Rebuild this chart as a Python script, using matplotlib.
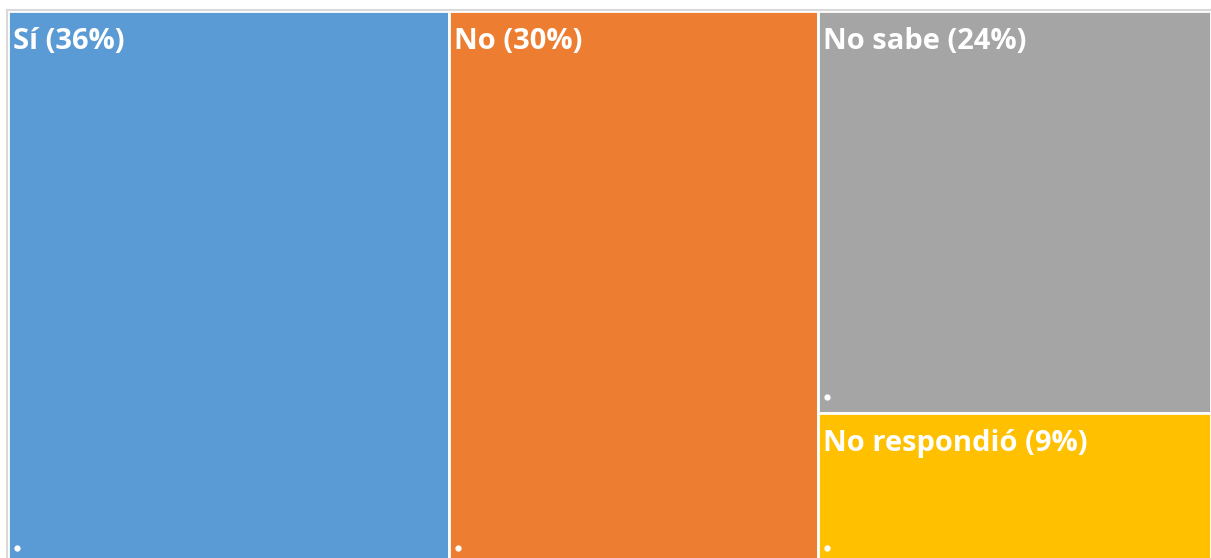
import matplotlib.pyplot as plt
from matplotlib.patches import Rectangle

# treemap data
labels = ["Sí", "No", "No sabe", "No respondió"]
pct_labels = [36, 30, 24, 9]
shares = [36.6, 30.6, 23.7, 8.9]
colors = ["#5B9BD5", "#ED7D31", "#A5A5A5", "#FFC000"]

W, H = 1211, 558
fig = plt.figure(figsize=(W / 100, H / 100), dpi=100)
left, top, below = 8, 11, 6  # plot area runs a few px past the bottom edge
ax_h = H - top + below
ax = fig.add_axes([left / W, -below / H, (W - left) / W, ax_h / H])
ax.set_xlim(0, 1)
ax.set_ylim(0, 1)
ax.axis("off")

# plot-area border (light grey)
fig.add_artist(plt.Line2D([(left - 1) / W, 1], [1 - (top - 1) / H] * 2, color="#D9D9D9", lw=1.5))
fig.add_artist(plt.Line2D([(left - 1) / W] * 2, [0, 1 - (top - 1) / H], color="#D9D9D9", lw=1.5))

# layout: first two as full-height columns, last two stacked in the remaining column
total = sum(shares)
rects = []
x = 0.0
for v in shares[:2]:
    w = v / total
    rects.append((x, 0.0, w, 1.0))
    x += w
rest = sum(shares[2:])
w = 1.0 - x
y = 1.0
for v in shares[2:]:
    h = v / rest
    y -= h
    rects.append((x, y, w, h))

ax_w = W - left
for (rx, ry, rw, rh), lab, p, col in zip(rects, labels, pct_labels, colors):
    ax.add_patch(Rectangle((rx, ry), rw, rh, facecolor=col, edgecolor="white", lw=2))
    ax.text(rx + 5 / ax_w, ry + rh - 16 / ax_h, f"{lab} ({p}%)", color="white",
            fontsize=21, fontweight="bold", family="Open Sans", va="top", ha="left")
    ax.plot(rx + 9 / ax_w, ry + 16 / ax_h, "o", color="white", markersize=3.5)

fig.savefig("out.png", dpi=100)
